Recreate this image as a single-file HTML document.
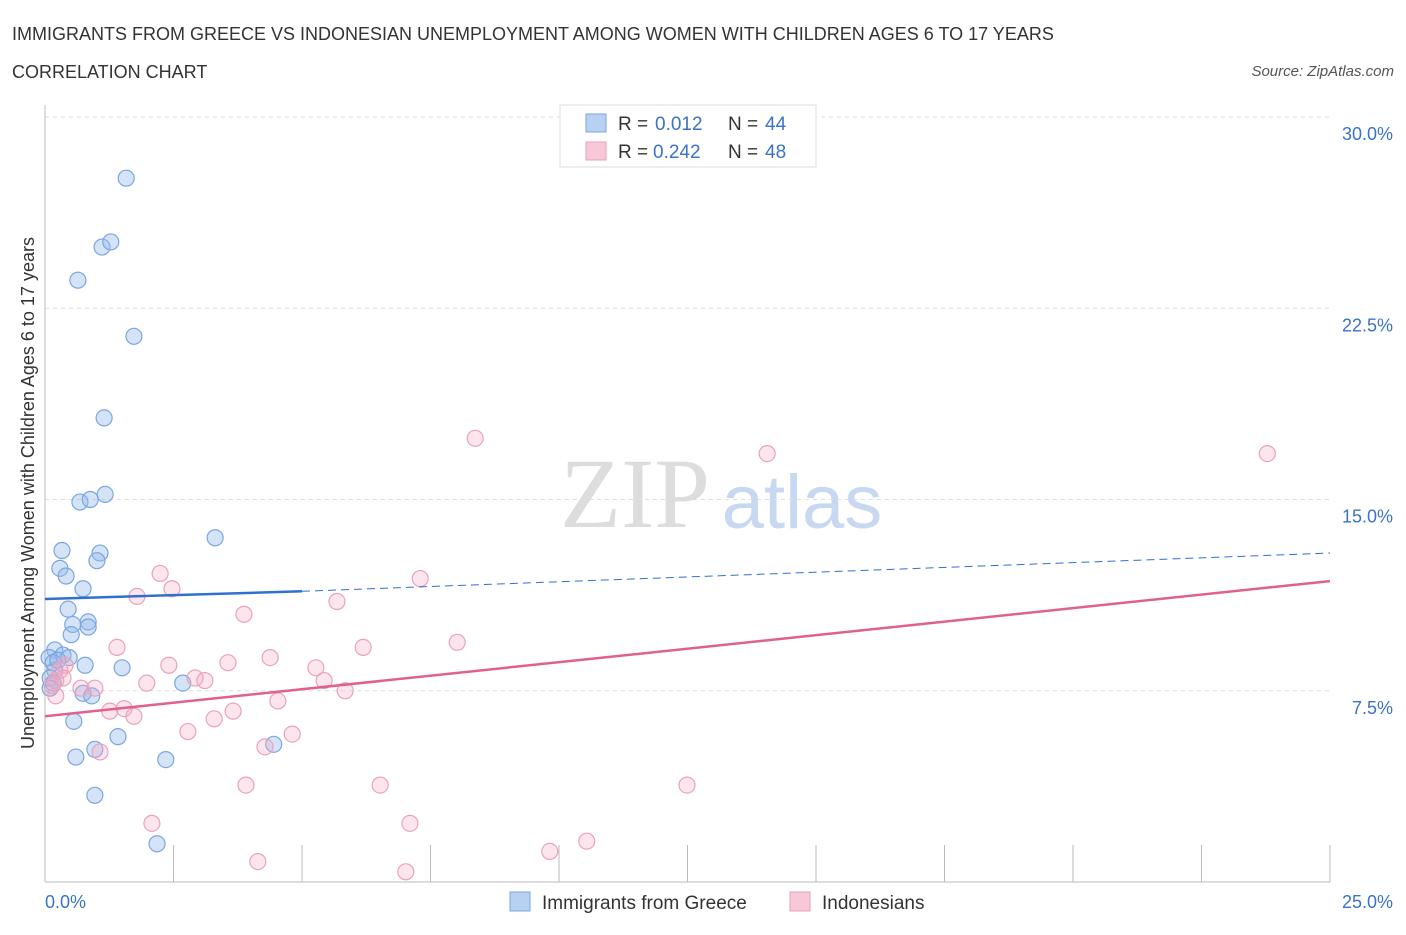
<!DOCTYPE html>
<html><head><meta charset="utf-8"><style>
body{margin:0;background:#fff;font-family:"Liberation Sans",sans-serif;}
</style></head><body>
<svg width="1406" height="930" xmlns="http://www.w3.org/2000/svg">
<text x="12" y="40" font-size="18" fill="#333">IMMIGRANTS FROM GREECE VS INDONESIAN UNEMPLOYMENT AMONG WOMEN WITH CHILDREN AGES 6 TO 17 YEARS</text>
<text x="12" y="78" font-size="18" fill="#333">CORRELATION CHART</text>
<text x="1394" y="76" font-size="15" fill="#555" font-style="italic" text-anchor="end">Source: ZipAtlas.com</text>
<text x="635" y="527" font-size="100" fill="#ddd" font-family="Liberation Serif" text-anchor="middle">ZIP</text>
<text x="802" y="528" font-size="76" fill="#c8d8f0" text-anchor="middle">atlas</text>
<g id="grid"></g>
<g id="axes"></g>
<g id="marks"></g>
<text transform="translate(34,493) rotate(-90)" font-size="18" fill="#333" text-anchor="middle">Unemployment Among Women with Children Ages 6 to 17 years</text>
<g>
<rect x="560" y="105" width="256" height="62" fill="#fff" stroke="#ddd"/>
<rect x="586" y="114" width="20" height="18" fill="#b8d0f2" stroke="#7aa6e0"/>
<rect x="586" y="142" width="20" height="18" fill="#f8c8d8" stroke="#e8a0b8"/>
<text x="618" y="130" font-size="19" fill="#333">R =</text><text x="655" y="130" font-size="19" fill="#3b73c8">0.012</text>
<text x="728" y="130" font-size="19" fill="#333">N =</text><text x="765" y="130" font-size="19" fill="#3b73c8">44</text>
<text x="618" y="158" font-size="19" fill="#333">R =</text><text x="653" y="158" font-size="19" fill="#3b73c8">0.242</text>
<text x="728" y="158" font-size="19" fill="#333">N =</text><text x="765" y="158" font-size="19" fill="#3b73c8">48</text>
</g>
<g>
<rect x="510" y="892" width="20" height="19" fill="#b8d0f2" stroke="#7aa6e0"/>
<text x="542" y="909" font-size="19" fill="#333">Immigrants from Greece</text>
<rect x="790" y="892" width="20" height="19" fill="#f8c8d8" stroke="#e8a0b8"/>
<text x="822" y="909" font-size="19" fill="#333">Indonesians</text>
</g>
</svg>
<script>
const yTicks=[7.5,15,22.5,30];
const yTickLabels=["7.5%","15.0%","22.5%","30.0%"];
const xTicks=[0,2.5,5,7.5,10,12.5,15,17.5,20,22.5,25];
const greeceX=[1.58,1.11,1.28,0.64,1.73,1.15,0.68,0.88,1.17,3.31,0.33,1.07,1.01,0.29,0.41,0.74,0.45,0.54,0.84,0.84,0.51,0.19,0.35,0.47,0.08,0.78,1.50,0.19,0.10,0.16,2.68,0.74,0.91,0.56,1.42,0.97,4.45,0.60,2.35,0.97,2.18,0.16,0.25,0.10];
const greeceY=[27.6,24.9,25.1,23.6,21.4,18.2,14.9,15.0,15.2,13.5,13.0,12.9,12.6,12.3,12.0,11.5,10.7,10.1,10.2,10.0,9.7,9.1,8.9,8.8,8.8,8.5,8.4,8.3,8.0,7.8,7.8,7.4,7.3,6.3,5.7,5.2,5.4,4.9,4.8,3.4,1.5,8.6,8.7,7.6];
const indoX=[8.37,14.05,23.78,2.24,7.30,2.47,1.79,5.68,3.87,8.02,1.40,6.19,2.41,3.56,4.38,5.27,2.92,3.11,1.98,5.43,0.21,0.70,0.97,5.84,4.53,1.26,1.54,1.73,3.66,3.29,2.78,4.81,4.28,1.07,3.91,6.52,12.49,2.08,7.10,9.82,10.54,4.14,7.02,0.21,0.29,0.39,0.14,0.35];
const indoY=[17.4,16.8,16.8,12.1,11.9,11.5,11.2,11.0,10.5,9.4,9.2,9.2,8.5,8.6,8.8,8.4,8.0,7.9,7.8,7.9,7.9,7.6,7.6,7.5,7.1,6.7,6.8,6.5,6.7,6.4,5.9,5.8,5.3,5.1,3.8,3.8,3.8,2.3,2.3,1.2,1.6,0.8,0.4,7.3,8.3,8.5,7.7,8.0];
const greeceTrend=[0,11.1,5,11.4,25,12.9];
const indoTrend=[0,6.5,25,11.8];
const NS="http://www.w3.org/2000/svg";
const xs=v=>45+v*51.4, ys=v=>882-v*25.5;
function mk(tag,attrs,parent){const e=document.createElementNS(NS,tag);for(const k in attrs)e.setAttribute(k,attrs[k]);document.getElementById(parent).appendChild(e);return e;}
yTicks.forEach((t,i)=>{
 const g=mk('line',{x1:45,x2:1330,y1:ys(t),y2:ys(t),stroke:'#ddd','stroke-dasharray':'4,4'},'grid');
 
 
 const l=mk('text',{x:1393,y:ys(t)+23,'font-size':18,fill:'#3b73c8','text-anchor':'end'},'axes');
 l.textContent=yTickLabels[i];
 
 
});
const ax=mk('line',{x1:45,x2:1330,y1:882,y2:882,stroke:'#bbb'},'axes');


const ay=mk('line',{x1:45,x2:45,y1:105,y2:882,stroke:'#bbb'},'axes');


xTicks.forEach(t=>{
 const e=mk('line',{x1:xs(t),x2:xs(t),y1:845,y2:882,stroke:'#bbb'},'axes');
 
 
});
const xl0=mk('text',{x:45,y:908,'font-size':18,fill:'#3b73c8'},'axes');xl0.textContent='0.0%';


const xl1=mk('text',{x:1393,y:908,'font-size':18,fill:'#3b73c8','text-anchor':'end'},'axes');xl1.textContent='25.0%';


greeceX.forEach((x,i)=>{
 const c=mk('circle',{cx:xs(x),cy:ys(greeceY[i]),r:8,fill:'rgba(150,185,235,0.4)',stroke:'#7aa6e0','stroke-width':1.2},'marks');
 
 
});
indoX.forEach((x,i)=>{
 const c=mk('circle',{cx:xs(x),cy:ys(indoY[i]),r:8,fill:'rgba(245,170,195,0.3)',stroke:'#eaa2bb','stroke-width':1.2},'marks');
 
 
});
const t1=mk('line',{x1:xs(greeceTrend[0]),y1:ys(greeceTrend[1]),x2:xs(greeceTrend[2]),y2:ys(greeceTrend[3]),stroke:'#3070d0','stroke-width':2.5},'marks');


const t2=mk('line',{x1:xs(greeceTrend[2]),y1:ys(greeceTrend[3]),x2:xs(greeceTrend[4]),y2:ys(greeceTrend[5]),stroke:'#3070d0','stroke-width':1,'stroke-dasharray':'8,5'},'marks');


const t3=mk('line',{x1:xs(indoTrend[0]),y1:ys(indoTrend[1]),x2:xs(indoTrend[2]),y2:ys(indoTrend[3]),stroke:'#e06090','stroke-width':2.5},'marks');


</script>
</body></html>
